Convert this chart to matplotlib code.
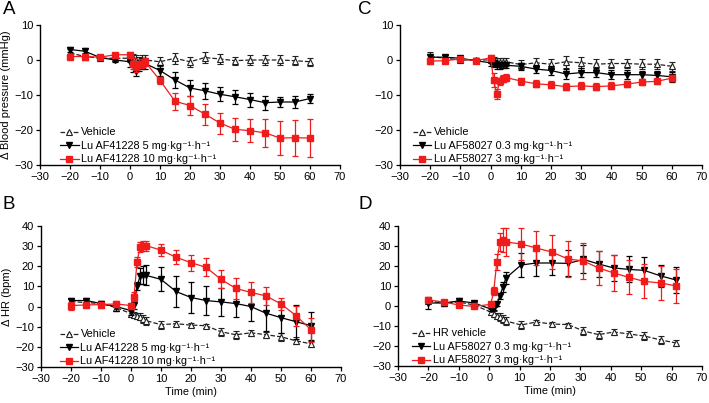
import matplotlib
matplotlib.use("Agg")
import matplotlib.pyplot as plt
from matplotlib.lines import Line2D
import numpy as np

plt.rcParams['font.family'] = ['Liberation Sans', 'DejaVu Sans']

# ---------------- data ----------------
t_ab = [-20, -15, -10, -5, 0, 1, 2, 3, 4, 5, 10, 15, 20, 25, 30, 35, 40, 45, 50, 55, 60]
t_c = [-20, -15, -10, -5, 0, 1, 2, 3, 4, 5, 10, 15, 20, 25, 30, 35, 40, 45, 50, 55, 60]
t_d = [-20, -15, -10, -5, 0.5, 1.5, 2.5, 3.5, 4.5, 5.5, 10.5, 15.5, 20.5, 26, 31, 36, 41, 46, 51, 56.5, 61.5]

# Panel A: blood pressure, Lu AF41228
A_veh = [2.0, 1.0, 0.5, 0.5, 0.5, 0.5, 0.0, -0.5, 0.0, 0.0, -0.5, 0.5, -0.5, 0.7, 0.3, -0.2, 0.0, 0.0, 0.0, -0.2, -0.5]
A_veh_err = [1.2, 1.0, 0.8, 0.8, 1.0, 1.2, 1.5, 1.5, 1.5, 1.5, 1.3, 1.5, 1.5, 1.5, 1.5, 1.2, 1.5, 1.5, 1.5, 1.3, 1.2]
A_lo = [3.0, 2.5, 0.7, 0.0, -0.5, -1.5, -3.0, -1.5, -1.0, -1.0, -3.0, -5.7, -8.0, -8.8, -9.8, -10.5, -11.3, -12.2, -12.0, -12.0, -11.0]
A_lo_err = [0.8, 0.8, 0.6, 0.6, 1.5, 2.0, 1.5, 1.5, 1.5, 1.5, 1.5, 2.2, 2.4, 2.2, 2.0, 2.0, 2.0, 2.0, 1.5, 1.6, 1.4]
A_hi = [1.0, 1.0, 0.8, 1.5, 1.5, -1.0, -2.0, -1.0, -1.0, -0.5, -5.8, -11.8, -13.0, -15.5, -18.0, -19.8, -20.2, -20.8, -22.3, -22.2, -22.3]
A_hi_err = [0.8, 0.6, 0.5, 0.5, 0.8, 1.5, 1.5, 1.2, 1.2, 1.2, 1.0, 2.5, 2.8, 3.0, 3.0, 3.2, 3.3, 4.0, 4.8, 5.2, 5.5]

# Panel B: heart rate, Lu AF41228
B_veh = [2.5, 2.0, 1.5, -0.5, -3.5, -4.0, -4.5, -5.0, -6.0, -7.0, -9.0, -8.5, -9.2, -9.5, -12.5, -14.0, -13.0, -14.0, -15.0, -17.0, -18.5]
B_veh_err = [1.5, 1.5, 1.2, 1.5, 1.5, 1.5, 1.5, 1.8, 2.0, 2.0, 2.0, 1.2, 1.0, 1.0, 2.0, 2.0, 1.5, 1.5, 2.0, 1.8, 1.5]
B_lo = [3.0, 3.0, 1.5, 0.0, -2.0, 1.0, 10.0, 15.0, 15.5, 15.5, 13.5, 7.5, 4.5, 3.0, 2.3, 1.5, 0.0, -3.3, -5.5, -7.5, -9.5]
B_lo_err = [1.5, 1.5, 1.2, 2.0, 2.0, 2.0, 2.0, 4.0, 4.5, 5.0, 6.0, 7.5, 7.5, 7.0, 7.0, 6.5, 7.0, 9.0, 7.5, 8.5, 7.0]
B_hi = [0.5, 0.8, 1.0, 1.3, 0.5, 5.0, 22.0, 29.5, 30.0, 30.3, 28.0, 24.5, 21.8, 19.5, 13.5, 9.0, 7.0, 5.3, 1.3, -4.5, -11.5]
B_hi_err = [2.0, 1.5, 1.5, 1.5, 1.5, 2.0, 2.5, 2.5, 2.5, 2.5, 3.0, 3.5, 4.0, 4.5, 4.5, 5.0, 5.0, 4.5, 3.0, 5.0, 6.0]

# Panel C: blood pressure, Lu AF58027
C_veh = [1.0, 0.5, 0.0, 0.0, 0.0, 0.0, -0.5, -0.5, -0.5, -0.5, -1.3, -0.8, -1.2, -0.5, -0.8, -1.2, -1.0, -1.0, -1.2, -1.2, -1.8]
C_veh_err = [1.2, 0.8, 0.8, 0.6, 0.8, 1.0, 1.2, 1.2, 1.2, 1.2, 1.2, 1.5, 1.5, 1.7, 1.6, 1.4, 1.4, 1.4, 1.5, 1.4, 1.2]
C_lo = [0.8, 0.8, 0.5, -0.2, -0.8, -1.0, -1.5, -1.8, -1.5, -1.5, -1.8, -2.6, -3.0, -4.0, -3.6, -3.6, -4.2, -4.2, -4.2, -4.4, -4.8]
C_lo_err = [1.0, 0.6, 0.6, 0.6, 0.8, 1.0, 1.0, 0.8, 0.8, 0.8, 1.0, 1.2, 1.2, 1.3, 1.3, 1.3, 1.3, 1.3, 1.2, 1.2, 1.4]
C_hi = [-0.3, -0.2, 0.3, -0.2, 0.6, -5.7, -9.7, -6.0, -5.4, -5.0, -6.0, -6.8, -7.1, -7.6, -7.4, -7.6, -7.4, -6.9, -6.3, -6.1, -5.2]
C_hi_err = [0.8, 0.6, 0.6, 0.6, 0.8, 2.0, 1.5, 1.0, 1.0, 1.0, 1.0, 1.0, 1.0, 1.0, 1.0, 1.0, 1.0, 0.8, 0.8, 0.8, 0.8]

# Panel D: heart rate, Lu AF58027
D_veh = [2.5, 1.5, 2.0, 0.5, -3.0, -4.0, -5.0, -5.5, -6.5, -7.5, -9.5, -8.0, -9.0, -9.3, -12.5, -14.3, -13.0, -14.0, -15.0, -17.0, -18.5]
D_veh_err = [1.5, 1.5, 1.2, 1.5, 1.5, 1.5, 1.5, 1.8, 2.0, 2.0, 2.0, 1.0, 1.0, 1.0, 2.0, 2.0, 1.5, 1.5, 2.0, 1.8, 1.5]
D_lo = [1.5, 1.5, 2.5, 1.5, -1.5, -1.0, 1.0, 5.0, 9.5, 14.0, 20.5, 21.5, 21.5, 21.3, 23.3, 21.0, 19.0, 18.3, 17.8, 15.0, 13.0]
D_lo_err = [3.0, 1.5, 1.5, 1.0, 1.0, 1.0, 1.0, 1.5, 2.5, 3.0, 6.0, 6.5, 6.0, 6.5, 7.0, 6.5, 6.5, 6.5, 6.5, 5.5, 6.5]
D_hi = [3.0, 2.0, 0.5, -0.2, 0.8, 7.5, 22.0, 32.0, 33.0, 32.0, 31.0, 29.0, 27.0, 23.5, 22.5, 19.0, 16.5, 14.3, 12.3, 11.5, 10.0]
D_hi_err = [1.0, 1.0, 1.0, 1.0, 1.0, 2.0, 4.0, 4.5, 6.0, 7.0, 8.0, 8.5, 8.5, 9.0, 9.0, 8.5, 9.0, 8.5, 8.5, 8.5, 8.5]

SUP = "\u00b7kg\u207b\u00b9\u00b7h\u207b\u00b9"
labels_A = ["Vehicle", "Lu AF41228 5 mg" + SUP, "Lu AF41228 10 mg" + SUP]
labels_C = ["Vehicle", "Lu AF58027 0.3 mg" + SUP, "Lu AF58027 3 mg" + SUP]
labels_D = ["HR vehicle", "Lu AF58027 0.3 mg" + SUP, "Lu AF58027 3 mg" + SUP]

RED = '#f01c1c'
FS = 8.0
LFS = 7.8

W, H = 709, 403
fig = plt.figure(figsize=(W / 100, H / 100), dpi=100)


def px_axes(l, r, t, b):
    return fig.add_axes([l / W, 1 - b / H, (r - l) / W, (b - t) / H])


def panel(ax, tv, tl, th, veh, veh_e, lo, lo_e, hi, hi_e, labels, ylim, yticks, leg_x,
          ylabel=None, xlabel=None):
    ax.errorbar(tv, veh, yerr=veh_e, color='#222222', ls='--', lw=0.9, marker='^', ms=4.2,
                mfc='white', mec='#222222', mew=0.8, ecolor='#222222', elinewidth=0.9,
                capsize=2.5, capthick=0.9, zorder=3)
    ax.errorbar(tl, lo, yerr=lo_e, color='black', ls='-', lw=0.9, marker='v', ms=4.5,
                ecolor='black', elinewidth=0.9, capsize=2.5, capthick=0.9, zorder=4)
    ax.errorbar(th, hi, yerr=hi_e, color=RED, ls='-', lw=0.9, marker='s', ms=4.2,
                ecolor=RED, elinewidth=0.9, capsize=2.5, capthick=0.9, zorder=5)
    ax.set_xlim(-30, 70)
    ax.set_ylim(*ylim)
    ax.set_xticks(np.arange(-30, 71, 10))
    ax.set_yticks(yticks)
    for s in ['top', 'right']:
        ax.spines[s].set_visible(False)
    for s in ['left', 'bottom']:
        ax.spines[s].set_linewidth(1.0)
    ax.tick_params(axis='both', labelsize=FS, length=3, width=0.9, pad=2)
    if ylabel:
        ax.set_ylabel(ylabel, fontsize=FS, labelpad=2)
    if xlabel:
        ax.set_xlabel(xlabel, fontsize=FS - 0.2, labelpad=2)
    handles = [
        Line2D([], [], color='#222222', ls='--', lw=0.9, marker='^', ms=4.2, mfc='white', mec='#222222', mew=0.8),
        Line2D([], [], color='black', ls='-', lw=0.9, marker='v', ms=4.5),
        Line2D([], [], color=RED, ls='-', lw=0.9, marker='s', ms=4.2),
    ]
    ax.legend(handles, labels, loc='lower left', bbox_to_anchor=(leg_x, 0.005), frameon=False,
              fontsize=LFS, handlelength=1.7, handletextpad=0.2, labelspacing=0.32,
              borderpad=0.0, borderaxespad=0.0)
    return ax


axA = px_axes(40, 340, 25, 165)
panel(axA, t_ab, t_ab, t_ab, A_veh, A_veh_err, A_lo, A_lo_err, A_hi, A_hi_err, labels_A,
      (-30, 10), [-30, -20, -10, 0, 10], 0.067, ylabel='\u0394 Blood pressure (mmHg)')
axC = px_axes(400, 702, 25, 165)
panel(axC, t_c, t_c, t_c, C_veh, C_veh_err, C_lo, C_lo_err, C_hi, C_hi_err, labels_C,
      (-30, 10), [-30, -20, -10, 0, 10], 0.043)
axB = px_axes(41, 341, 226, 367)
panel(axB, t_ab, t_ab, t_ab, B_veh, B_veh_err, B_lo, B_lo_err, B_hi, B_hi_err, labels_A,
      (-30, 40), np.arange(-30, 41, 10), 0.063, ylabel='\u0394 HR (bpm)', xlabel='Time (min)')
axD = px_axes(398, 702, 226, 366)
panel(axD, t_d, t_d, t_d, D_veh, D_veh_err, D_lo, D_lo_err, D_hi, D_hi_err, labels_D,
      (-30, 40), np.arange(-30, 41, 10), 0.046, xlabel='Time (min)')

for letter, x, y in [('A', 3, 1), ('C', 358, 1), ('B', 3, 196), ('D', 358, 196)]:
    fig.text(x / W, 1 - y / H, letter, fontsize=13.5, va='top', ha='left')

fig.savefig('out.png', dpi=100)
